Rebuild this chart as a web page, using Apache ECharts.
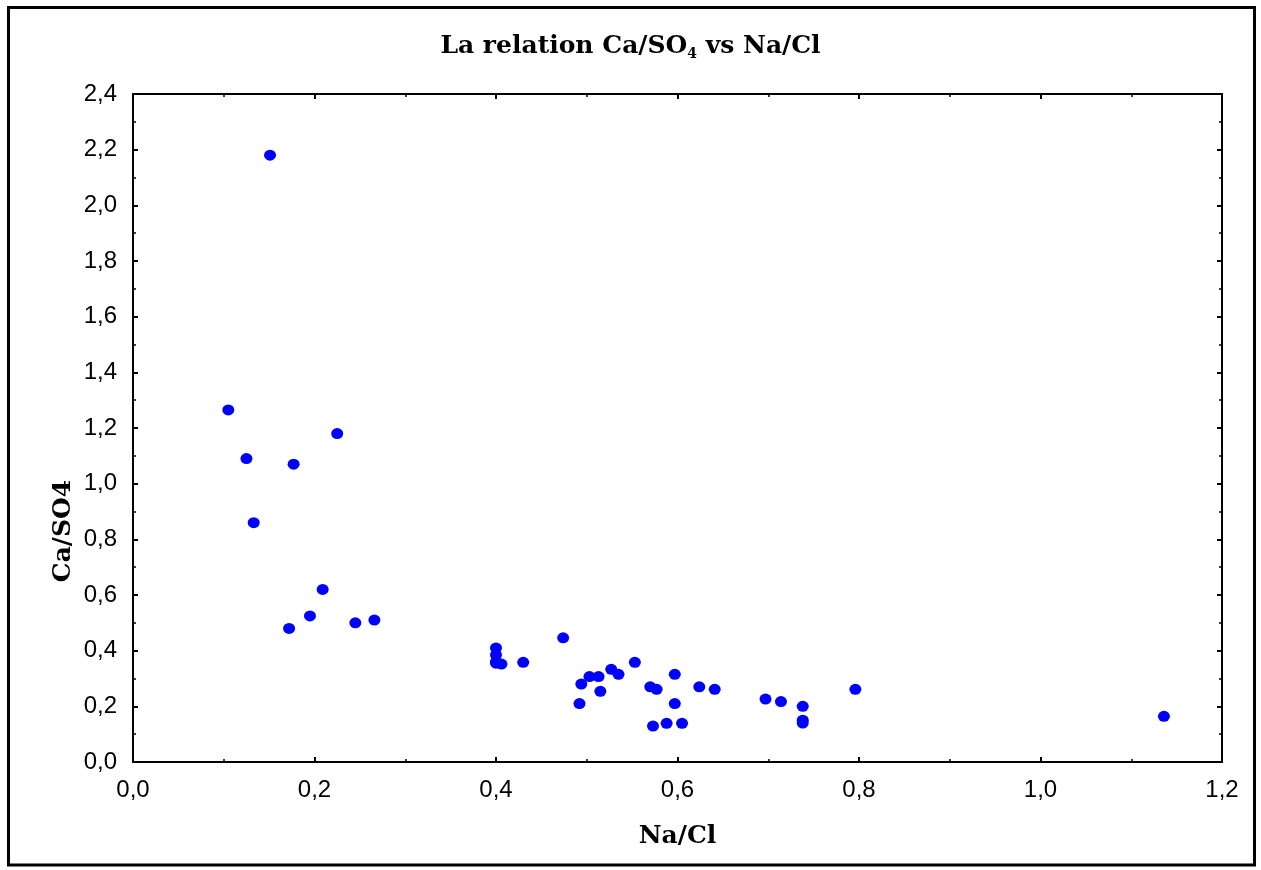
<!DOCTYPE html>
<html>
<head>
<meta charset="utf-8">
<script src="https://cdn.jsdelivr.net/npm/echarts@6/dist/echarts.min.js"></script>
<style>
html,body{margin:0;padding:0;background:#fff;}
#chart{width:1261px;height:870px;}
</style>
</head>
<body>
<div id="chart"></div>
<script>
// Data
const naCl = [0.151, 0.105, 0.225, 0.125, 0.177, 0.133, 0.209, 0.195, 0.172, 0.245, 0.266,
  0.400, 0.400, 0.400, 0.400, 0.406, 0.430, 0.474, 0.494, 0.503, 0.513, 0.515, 0.492,
  0.527, 0.535, 0.553, 0.570, 0.577, 0.597, 0.597, 0.573, 0.588, 0.605, 0.624, 0.641,
  0.697, 0.714, 0.738, 0.738, 0.738, 0.796, 1.136];
const caSO4 = [2.18, 1.265, 1.18, 1.09, 1.07, 0.86, 0.62, 0.525, 0.48, 0.50, 0.51,
  0.41, 0.385, 0.36, 0.355, 0.352, 0.358, 0.446, 0.28, 0.307, 0.307, 0.254, 0.21,
  0.333, 0.315, 0.358, 0.27, 0.261, 0.315, 0.21, 0.129, 0.139, 0.139, 0.27, 0.261,
  0.226, 0.217, 0.200, 0.15, 0.14, 0.261, 0.164];
const xTicks = ['0,0', '0,2', '0,4', '0,6', '0,8', '1,0', '1,2'];
const yTicks = ['0,0', '0,2', '0,4', '0,6', '0,8', '1,0', '1,2', '1,4', '1,6', '1,8', '2,0', '2,2', '2,4'];
const titleMain = 'La relation Ca/SO';
const titleSub = '4';
const titleEnd = ' vs Na/Cl';
const xName = 'Na/Cl';
const yName = 'Ca/SO4';

const points = naCl.map((x, i) => [x, caSO4[i]]);
const serif = 'DejaVu Serif';

const axisCommon = {
  axisLine: {show: true, onZero: false, lineStyle: {color: '#000', width: 2}},
  axisTick: {show: true, inside: true, length: 5, lineStyle: {color: '#000', width: 2}},
  minorTick: {show: true, splitNumber: 2, length: 3, lineStyle: {color: '#000', width: 1.5}},
  splitLine: {show: false}
};

const chart = echarts.init(document.getElementById('chart'), null, {renderer: 'canvas'});
chart.setOption({
  backgroundColor: '#fff',
  animation: false,
  title: {
    text: '{t|' + titleMain + '}{s|' + titleSub + '}{t|' + titleEnd + '}',
    left: 'center',
    top: 27,
    textStyle: {
      rich: {
        t: {fontFamily: serif, fontWeight: 'bold', fontSize: 25, color: '#000'},
        s: {fontFamily: serif, fontWeight: 'bold', fontSize: 14, color: '#000', padding: [15, 0, 0, 0]}
      }
    }
  },
  grid: {left: 133, right: 39, top: 94, bottom: 108},
  xAxis: [
    Object.assign({}, axisCommon, {
      type: 'value', position: 'bottom', min: 0, max: 1.2, interval: 0.2,
      name: xName, nameLocation: 'middle', nameGap: 62,
      nameTextStyle: {fontFamily: serif, fontWeight: 'bold', fontSize: 25, color: '#000', verticalAlign: 'top'},
      axisLabel: {margin: 16, fontFamily: 'Liberation Sans', fontSize: 24, color: '#000',
        formatter: v => xTicks[Math.round(v / 0.2)]}
    }),
    Object.assign({}, axisCommon, {
      type: 'value', position: 'top', min: 0, max: 1.2, interval: 0.2,
      axisLabel: {show: false}
    })
  ],
  yAxis: [
    Object.assign({}, axisCommon, {
      type: 'value', position: 'left', min: 0, max: 2.4, interval: 0.2,
      axisLabel: {margin: 16, fontFamily: 'Liberation Sans', fontSize: 24, color: '#000',
        formatter: v => yTicks[Math.round(v / 0.2)]}
    }),
    Object.assign({}, axisCommon, {
      type: 'value', position: 'right', min: 0, max: 2.4, interval: 0.2,
      axisLabel: {show: false}
    })
  ],
  graphic: [
    {
      type: 'rect',
      shape: {x: 8.5, y: 7.5, width: 1246, height: 857.5},
      style: {fill: 'none', stroke: '#000', lineWidth: 3},
      silent: true
    },
    {
      type: 'text',
      x: 63, y: 531,
      rotation: Math.PI / 2,
      style: {
        text: yName,
        fontFamily: serif, fontWeight: 'bold', fontSize: 25, fill: '#000',
        align: 'center', verticalAlign: 'middle'
      }
    }
  ],
  series: [{
    type: 'scatter',
    xAxisIndex: 0, yAxisIndex: 0,
    data: points,
    symbol: 'circle',
    symbolSize: [12, 11],
    itemStyle: {color: '#0000ff', opacity: 1},
    z: 5
  }]
});
</script>
</body>
</html>
